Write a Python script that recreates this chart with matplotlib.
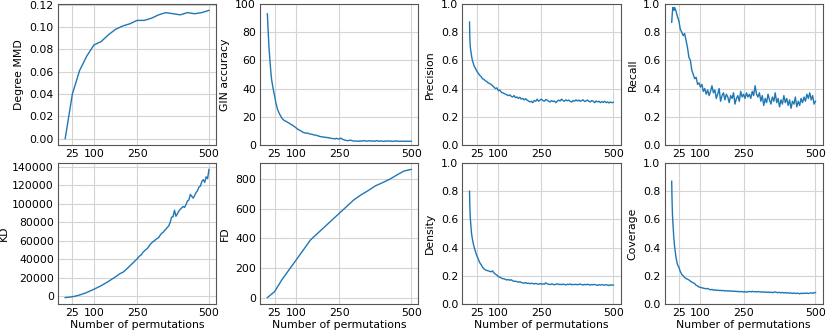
import matplotlib
matplotlib.use('Agg')
import matplotlib.pyplot as plt
from matplotlib.ticker import MultipleLocator, FormatStrFormatter

plt.rcParams['font.size'] = 7.8

XTICKS = [25, 100, 250, 500]

# Degree MMD, sampled every 25 permutations
mmd_x = list(range(0, 501, 25))
mmd_y = [0.000, 0.040, 0.061, 0.074, 0.084, 0.087, 0.093, 0.098, 0.101, 0.103, 0.106,
         0.106, 0.108, 0.111, 0.113, 0.112, 0.111, 0.113, 0.112, 0.113, 0.115]

# GIN accuracy
gin_head_x = [0, 3, 6, 9, 12, 15]
gin_head_y = [93, 80, 68, 60, 52, 46]
gin_tail = [40, 35, 29.5, 25.5, 23, 21, 19.2, 18, 17.2, 16.8,
            16.1, 15.6, 14.8, 14.3, 13.6, 12.9, 12.1, 11.3, 10.6, 10.2,
            9.5, 8.9, 8.6, 8.3, 8.5, 7.9, 7.7, 7.6, 7.2, 7.0,
            6.9, 6.5, 6.2, 5.9, 5.8, 5.5, 5.6, 5.2, 5.3, 5.0,
            4.8, 4.6, 4.5, 4.3, 4.7, 4.4, 4.2, 4.9, 4.1, 3.8,
            3.4, 3.2, 3.0, 3.3, 3.4, 3.0, 2.8, 2.7, 2.9, 2.6,
            2.8, 2.9, 2.7, 3.1, 2.9, 2.7, 2.8, 3.0, 2.7, 2.9,
            2.6, 2.8, 3.1, 2.8, 2.6, 2.9, 2.7, 2.5, 2.8, 2.7,
            2.9, 2.6, 2.8, 2.5, 2.7, 2.9, 2.6, 2.8, 2.5, 2.7,
            2.6, 2.8, 2.5, 2.7, 2.6, 2.7, 2.6]

# Precision
prec_head_x = [0, 1, 2, 3, 5, 8, 10, 13, 16]
prec_head_y = [0.872, 0.76, 0.72, 0.69, 0.66, 0.62, 0.60, 0.58, 0.56]
prec_tail = [0.545, 0.525, 0.51, 0.495, 0.485, 0.47, 0.465, 0.455, 0.45, 0.44,
             0.435, 0.43, 0.42, 0.41, 0.40, 0.405, 0.385, 0.39, 0.375, 0.37,
             0.365, 0.36, 0.355, 0.35, 0.355, 0.345, 0.34, 0.35, 0.335, 0.34,
             0.33, 0.338, 0.325, 0.33, 0.32, 0.328, 0.318, 0.312, 0.305, 0.31,
             0.30, 0.315, 0.31, 0.325, 0.31, 0.318, 0.325, 0.315, 0.31, 0.322,
             0.318, 0.31, 0.305, 0.315, 0.308, 0.312, 0.30, 0.31, 0.318, 0.312,
             0.325, 0.315, 0.31, 0.32, 0.313, 0.318, 0.31, 0.305, 0.315, 0.31,
             0.32, 0.312, 0.318, 0.31, 0.315, 0.32, 0.308, 0.312, 0.318, 0.31,
             0.305, 0.315, 0.31, 0.30, 0.312, 0.305, 0.31, 0.30, 0.308, 0.302,
             0.31, 0.30, 0.305, 0.298, 0.305, 0.30, 0.302]

# Recall
rec_head_x = [0, 2, 4, 6, 8, 10]
rec_head_y = [0.87, 0.93, 0.975, 0.965, 0.955, 0.975]
rec_tail = [0.95,
            0.91, 0.88, 0.82, 0.80, 0.775, 0.79, 0.74, 0.69, 0.62, 0.60,
            0.53, 0.50, 0.47, 0.48, 0.43, 0.44, 0.41, 0.43, 0.38, 0.40,
            0.36, 0.39, 0.35, 0.38, 0.42, 0.37, 0.39, 0.33, 0.36, 0.40,
            0.31, 0.35, 0.37, 0.32, 0.36, 0.34, 0.30, 0.35, 0.33, 0.37,
            0.29, 0.33, 0.35, 0.31, 0.38, 0.34, 0.36, 0.33, 0.37, 0.34,
            0.36, 0.33, 0.38, 0.35, 0.42, 0.36, 0.34, 0.37, 0.31, 0.35,
            0.28, 0.33, 0.30, 0.36, 0.32, 0.29, 0.34, 0.31, 0.37, 0.30,
            0.33, 0.27, 0.32, 0.29, 0.35, 0.30, 0.33, 0.28, 0.32, 0.26,
            0.31, 0.29, 0.34, 0.27, 0.31, 0.28, 0.33, 0.30, 0.34, 0.31,
            0.36, 0.33, 0.37, 0.32, 0.35, 0.29, 0.31]

# KD: every 10 permutations up to 240, then every 5
kd_head_x = list(range(0, 241, 10))
kd_head_y = [-1200, -900, -500, 0, 700, 1600, 2600, 3700, 5000, 6400,
             7800, 9300, 10800, 12500, 14300, 16200, 18200, 20200, 22300, 24500,
             26000, 28500, 31500, 34500, 37500]
kd_tail = [40500, 42500, 44000, 45000, 47500, 49000, 50500, 51500, 53500, 56000,
           57500, 59000, 60000, 61500, 62500, 63500, 66000, 68000, 69000, 71000,
           72500, 74500, 76000, 80000, 85500, 86000, 93000, 86500, 89000, 92000,
           94000, 95500, 97000, 96000, 99000, 103000, 104000, 110000, 108000, 106000,
           109000, 112000, 114000, 118000, 119000, 124000, 126000, 123000, 129000, 127000,
           137000]

# FD, sampled every 25 permutations
fd_x = list(range(0, 501, 25))
fd_y = [0, 40, 119, 187, 254, 322, 390, 435, 480, 525, 570,
        615, 660, 694, 723, 755, 777, 800, 829, 856, 867]

# Density
dens_head_x = [0, 1, 2, 3, 5, 7, 10, 15]
dens_head_y = [0.80, 0.70, 0.64, 0.60, 0.55, 0.50, 0.46, 0.41]
dens_tail = [0.376, 0.345, 0.32, 0.295, 0.28, 0.262, 0.25, 0.242, 0.238, 0.235,
             0.232, 0.228, 0.235, 0.22, 0.212, 0.205, 0.195, 0.19, 0.185, 0.18,
             0.178, 0.175, 0.17, 0.174, 0.168, 0.172, 0.165, 0.16, 0.162, 0.158,
             0.155, 0.158, 0.152, 0.15, 0.148, 0.152, 0.146, 0.148, 0.144, 0.147,
             0.145, 0.142, 0.146, 0.143, 0.14, 0.145, 0.141, 0.143, 0.14, 0.15,
             0.143, 0.14, 0.138, 0.142, 0.14, 0.136, 0.14, 0.143, 0.138, 0.14,
             0.137, 0.141, 0.139, 0.135, 0.14, 0.138, 0.142, 0.136, 0.139, 0.137,
             0.14, 0.136, 0.139, 0.142, 0.137, 0.135, 0.139, 0.136, 0.14, 0.137,
             0.134, 0.138, 0.136, 0.139, 0.135, 0.132, 0.137, 0.134, 0.138, 0.135,
             0.133, 0.137, 0.134, 0.131, 0.136, 0.133, 0.135]

# Coverage
cov_head_x = [0, 1, 2, 3, 5, 7, 10, 15]
cov_head_y = [0.87, 0.76, 0.68, 0.62, 0.55, 0.48, 0.41, 0.33]
cov_tail = [0.28, 0.26, 0.23, 0.21, 0.20, 0.188, 0.18, 0.176, 0.17, 0.162,
            0.155, 0.15, 0.145, 0.132, 0.128, 0.12, 0.118, 0.115, 0.112, 0.11,
            0.108, 0.11, 0.105, 0.1, 0.104, 0.098, 0.1, 0.096, 0.099, 0.095,
            0.097, 0.094, 0.096, 0.092, 0.095, 0.091, 0.094, 0.09, 0.093, 0.089,
            0.091, 0.088, 0.09, 0.086, 0.089, 0.087, 0.085, 0.088, 0.084, 0.087,
            0.089, 0.086, 0.09, 0.087, 0.088, 0.085, 0.089, 0.086, 0.084, 0.087,
            0.083, 0.086, 0.082, 0.085, 0.081, 0.084, 0.08, 0.083, 0.086, 0.082,
            0.08, 0.083, 0.079, 0.082, 0.078, 0.081, 0.077, 0.08, 0.076, 0.079,
            0.075, 0.078, 0.074, 0.077, 0.075, 0.073, 0.076, 0.074, 0.077, 0.075,
            0.078, 0.074, 0.077, 0.079, 0.076, 0.08, 0.081]


def join(head_x, head_y, tail, start):
    tail_x = list(range(start, start + 5 * len(tail), 5))
    assert tail_x[-1] == 500, (start, len(tail))
    return head_x + tail_x, head_y + tail


# label, data, ylim, y tick step, y tick format
panels = [
    ('Degree MMD', (mmd_x, mmd_y), None, 0.02, '%.2f'),
    ('GIN accuracy', join(gin_head_x, gin_head_y, gin_tail, 20), (0, 100), 20, '%d'),
    ('Precision', join(prec_head_x, prec_head_y, prec_tail, 20), (0, 1), 0.2, '%.1f'),
    ('Recall', join(rec_head_x, rec_head_y, rec_tail, 15), (0, 1), 0.2, '%.1f'),
    ('KD', join(kd_head_x, kd_head_y, kd_tail, 250), None, 20000, '%d'),
    ('FD', (fd_x, fd_y), None, 200, '%d'),
    ('Density', join(dens_head_x, dens_head_y, dens_tail, 20), (0, 1), 0.2, '%.1f'),
    ('Coverage', join(cov_head_x, cov_head_y, cov_tail, 20), (0, 1), 0.2, '%.1f'),
]

fig, axes = plt.subplots(2, 4, figsize=(8.31, 3.31), dpi=100)
fig.subplots_adjust(left=0.0698, right=0.990, bottom=0.0816, top=0.988,
                    wspace=0.278, hspace=0.128)

for ax, (label, (x, y), ylim, step, fmt) in zip(axes.flat, panels):
    ax.plot(x, y, color='#1f77b4', linewidth=1.0)
    ax.set_ylabel(label, labelpad=2 if label == 'KD' else 4)
    ax.set_xticks(XTICKS)
    ax.yaxis.set_major_locator(MultipleLocator(step))
    ax.yaxis.set_major_formatter(FormatStrFormatter(fmt))
    if ylim is not None:
        ax.set_ylim(*ylim)
    ax.grid(True, color='#d4d4d4', linewidth=0.8)
    ax.set_axisbelow(True)
    ax.tick_params(length=0, pad=3)
    for s in ax.spines.values():
        s.set_color('#555555')

for ax in axes[1]:
    ax.set_xlabel('Number of permutations', labelpad=1)

fig.savefig('out.png', dpi=100)
